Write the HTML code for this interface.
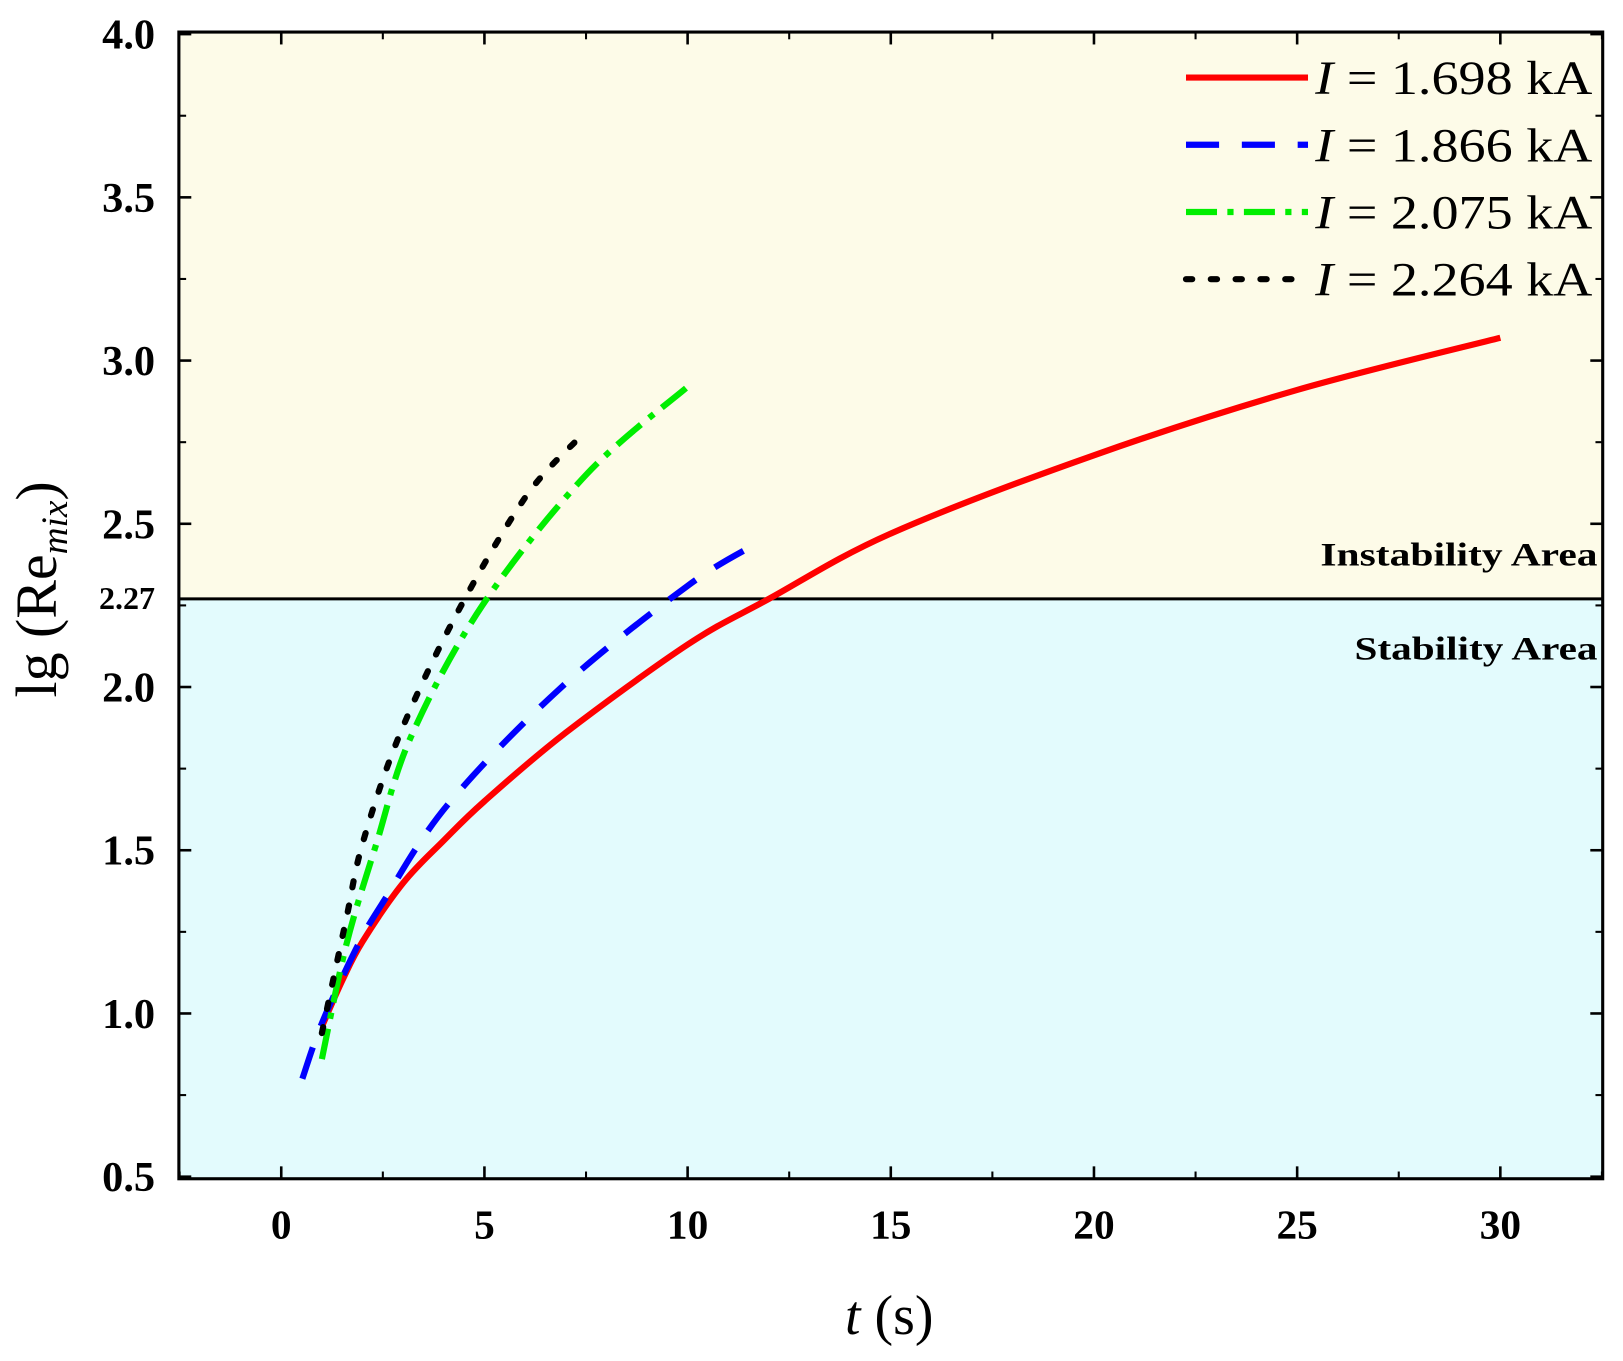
<!DOCTYPE html>
<html><head><meta charset="utf-8"><style>
body{margin:0;background:#fff;}
svg text{font-family:"Liberation Serif",serif;}
</style></head><body>
<svg width="1623" height="1356" viewBox="0 0 1623 1356" id="chart">
<g id="g" transform="scale(1.034)"></g>
</svg>
<script>
const xTicks=[0,5,10,15,20,25,30];
const yTicks=[0.5,1.0,1.5,2.0,2.5,3.0,3.5,4.0];
const threshold=2.27;
const redT=[1.0,1.5,2,3,4,5,7,10,12,15,20,25,30];
const redY=[0.96,1.1,1.22,1.40,1.53,1.65,1.86,2.13,2.27,2.47,2.71,2.91,3.07];
const blueT=[0.52,1.0,1.85,2.5,4.1,6.9,10,11.7];
const blueY=[0.80,0.97,1.2,1.34,1.64,2.0,2.31,2.44];
const greenT=[1.0,1.6,2.34,3.2,4.95,7.5,10];
const greenY=[0.86,1.21,1.52,1.85,2.25,2.65,2.92];
const blackT=[1.0,1.6,2.0,2.9,4.3,6,7.3];
const blackY=[0.94,1.29,1.52,1.85,2.22,2.58,2.76];
const legendLabels=["1.698 kA","1.866 kA","2.075 kA","2.264 kA"];

const L=173,R=1550,T=31,B=1140;
const X=t=>272+(t-0)*(1451-272)/30;
const Y=v=>33+(4.0-v)*(1138-33)/3.5;
const ns="http://www.w3.org/2000/svg";
const g=document.getElementById('g');
function el(tag,attrs,parent){const e=document.createElementNS(ns,tag);for(const k in attrs)e.setAttribute(k,attrs[k]);(parent||g).appendChild(e);return e;}
function smooth(pts){
 let d='M'+pts[0][0].toFixed(1)+','+pts[0][1].toFixed(1);
 for(let i=0;i<pts.length-1;i++){
  const p0=pts[Math.max(0,i-1)],p1=pts[i],p2=pts[i+1],p3=pts[Math.min(pts.length-1,i+2)];
  const c1=[p1[0]+(p2[0]-p0[0])/6,p1[1]+(p2[1]-p0[1])/6];
  const c2=[p2[0]-(p3[0]-p1[0])/6,p2[1]-(p3[1]-p1[1])/6];
  d+=' C'+c1[0].toFixed(1)+','+c1[1].toFixed(1)+' '+c2[0].toFixed(1)+','+c2[1].toFixed(1)+' '+p2[0].toFixed(1)+','+p2[1].toFixed(1);
 }
 return d;
}

let e;
e=el('rect',{x:L,y:T,width:R-L,height:Y(threshold)-T,fill:'#fdfbe8'});


e=el('rect',{x:L,y:Y(threshold),width:R-L,height:B-Y(threshold),fill:'#e3fbfd'});


e=el('line',{x1:L,x2:R,y1:Y(threshold),y2:Y(threshold),stroke:'#000','stroke-width':3});



xTicks.forEach((t,i)=>{
 let l=el('line',{x1:X(t),x2:X(t),y1:B,y2:B-12,stroke:'#000','stroke-width':2.5});
 
 
 el('line',{x1:X(t),x2:X(t),y1:T,y2:T+12,stroke:'#000','stroke-width':2.5});
 let m=t+2.5;
 el('line',{x1:X(m),x2:X(m),y1:B,y2:B-7,stroke:'#000','stroke-width':2});
 el('line',{x1:X(m),x2:X(m),y1:T,y2:T+7,stroke:'#000','stroke-width':2});
 let tx=el('text',{x:X(t),y:1198,'text-anchor':'middle','font-size':40,'font-weight':'bold'});tx.textContent=t;
 
 
});
el('line',{x1:X(-2.5),x2:X(-2.5),y1:B,y2:B-7,stroke:'#000','stroke-width':2});
yTicks.forEach(v=>{
 el('line',{x1:L,x2:L+12,y1:Y(v),y2:Y(v),stroke:'#000','stroke-width':2.5});
 el('line',{x1:R,x2:R-12,y1:Y(v),y2:Y(v),stroke:'#000','stroke-width':2.5});
 if(v<4){el('line',{x1:L,x2:L+7,y1:Y(v+0.25),y2:Y(v+0.25),stroke:'#000','stroke-width':2});el('line',{x1:R,x2:R-7,y1:Y(v+0.25),y2:Y(v+0.25),stroke:'#000','stroke-width':2});}
 let tx=el('text',{x:150,y:Y(v)+14,'text-anchor':'end','font-size':41,'font-weight':'bold'});tx.textContent=v.toFixed(1);
 
 
});
e=el('text',{x:150,y:Y(threshold)+10,'text-anchor':'end','font-size':31,'font-weight':'bold'});e.textContent='2.27';



const series=[[redT,redY,'#ff0000',null,'red'],[blueT,blueY,'#0000ff','32 22','blue'],[greenT,greenY,'#00ee00','30 10 6 10','green'],[blackT,blackY,'#000','6 18','black']];
series.forEach(s=>{
 const pts=s[0].map((t,i)=>[X(t),Y(s[1][i])]);
 const a={d:smooth(pts),fill:'none',stroke:s[2],'stroke-width':6,'stroke-linecap':s[4]=='black'?'round':'butt'};
 if(s[3])a['stroke-dasharray']=s[3];
 const p=el('path',a);
 
 
});

el('rect',{x:L,y:T,width:R-L,height:B-T,fill:'none',stroke:'#000','stroke-width':3});

series.forEach((s,i)=>{
 const y=75+i*65;
 const a={x1:1147,x2:1265,y1:y,y2:y,stroke:s[2],'stroke-width':6,'stroke-linecap':s[4]=='black'?'round':'butt'};
 if(s[3])a['stroke-dasharray']=s[3];
 const l=el('line',a);
 
 
 const tx=el('text',{x:1272,y:y+16,'font-size':46,textLength:268,lengthAdjust:'spacingAndGlyphs'});
 tx.innerHTML='<tspan font-style="italic">I</tspan> = '+legendLabels[i];
 
 
});

e=el('text',{x:1277,y:547,'font-size':32,'font-weight':'bold',textLength:268,lengthAdjust:'spacingAndGlyphs'});e.textContent='Instability Area';


e=el('text',{x:1310,y:638,'font-size':32,'font-weight':'bold',textLength:235,lengthAdjust:'spacingAndGlyphs'});e.textContent='Stability Area';



e=el('text',{x:860,y:1290,'text-anchor':'middle','font-size':54});
e.innerHTML='<tspan font-style="italic">t</tspan> (s)';


e=el('text',{x:0,y:0,'text-anchor':'middle','font-size':56,transform:'translate(54,570) rotate(-90)'});
e.innerHTML='lg (Re<tspan font-style="italic" font-size="36" dy="11">mix</tspan><tspan dy="-11">)</tspan>';


</script>
</body></html>
